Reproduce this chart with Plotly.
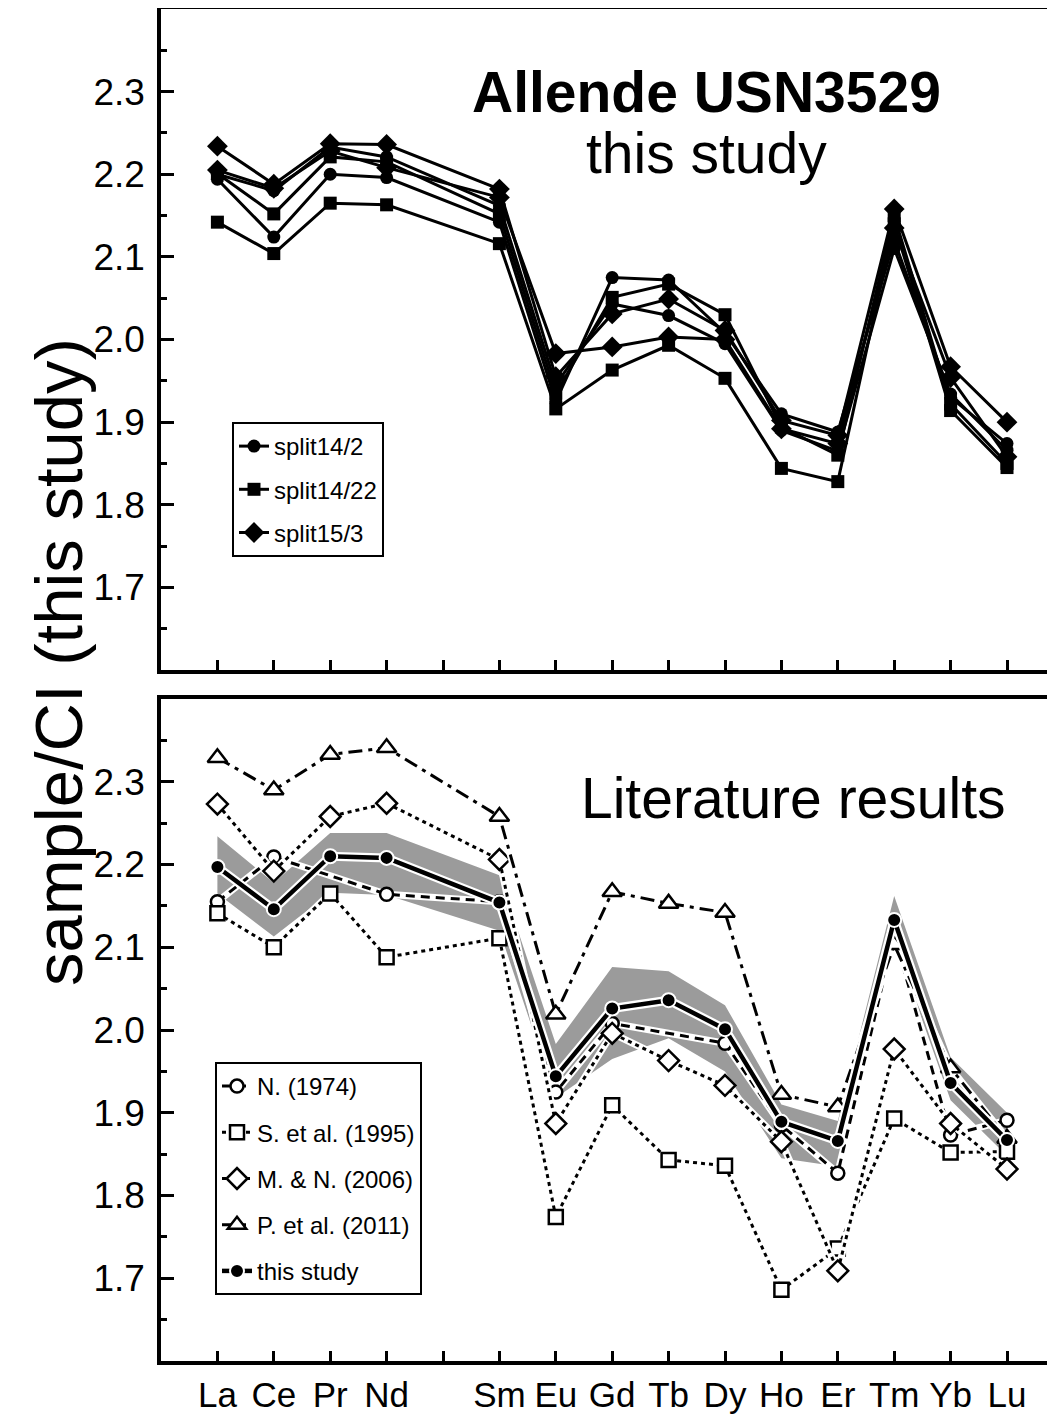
import plotly.graph_objects as go

# ---------------- data ----------------
elements = ["La", "Ce", "Pr", "Nd", "Sm", "Eu", "Gd", "Tb", "Dy", "Ho", "Er", "Tm", "Yb", "Lu"]
atomic_numbers = [57, 58, 59, 60, 62, 63, 64, 65, 66, 67, 68, 69, 70, 71]
tick_positions = [57, 58, 59, 60, 61, 62, 63, 64, 65, 66, 67, 68, 69, 70, 71]
tick_labels = ["La", "Ce", "Pr", "Nd", "", "Sm", "Eu", "Gd", "Tb", "Dy", "Ho", "Er", "Tm", "Yb", "Lu"]
y_tick_values = [1.7, 1.8, 1.9, 2.0, 2.1, 2.2, 2.3]
y_tick_labels = ["1.7", "1.8", "1.9", "2.0", "2.1", "2.2", "2.3"]
y_minor_values = [1.65, 1.75, 1.85, 1.95, 2.05, 2.15, 2.25, 2.35]

# top panel: this study, individual splits (two runs each)
split14_2_a = [2.194, 2.124, 2.200, 2.196, 2.142, 1.925, 2.075, 2.072, 2.008, 1.910, 1.888, 2.120, 1.930, 1.874]
split14_2_b = [2.200, 2.180, 2.233, 2.221, 2.162, 1.945, 2.043, 2.029, 1.995, 1.890, 1.865, 2.110, 1.934, 1.866]
split14_22_a = [2.142, 2.104, 2.165, 2.163, 2.116, 1.916, 1.963, 1.993, 1.953, 1.844, 1.828, 2.140, 1.914, 1.845]
split14_22_b = [2.201, 2.152, 2.221, 2.215, 2.152, 1.935, 2.051, 2.067, 2.030, 1.894, 1.860, 2.150, 1.922, 1.850]
split15_3_a = [2.234, 2.188, 2.237, 2.236, 2.182, 1.955, 2.031, 2.049, 2.011, 1.902, 1.884, 2.158, 1.967, 1.900]
split15_3_b = [2.205, 2.183, 2.228, 2.208, 2.172, 1.983, 1.991, 2.003, 2.000, 1.892, 1.874, 2.135, 1.954, 1.858]

# bottom panel: literature results
this_study = [2.197, 2.146, 2.210, 2.208, 2.154, 1.944, 2.026, 2.036, 2.001, 1.889, 1.866, 2.133, 1.936, 1.867]
band_hi = [2.234, 2.178, 2.238, 2.238, 2.187, 1.983, 2.076, 2.071, 2.030, 1.910, 1.890, 2.162, 1.967, 1.900]
band_lo = [2.165, 2.113, 2.166, 2.163, 2.120, 1.918, 1.965, 1.990, 1.950, 1.845, 1.835, 2.108, 1.915, 1.848]
n_1974 = [2.155, 2.209, None, 2.164, 2.155, 1.925, 2.008, None, 1.984, 1.885, 1.827, 2.115, 1.873, 1.891]
s_1995 = [2.141, 2.100, 2.165, 2.088, 2.111, 1.774, 1.909, 1.843, 1.836, 1.686, 1.736, 1.893, 1.852, 1.853]
mn_2006 = [2.273, 2.192, 2.258, 2.274, 2.206, 1.887, 1.996, 1.963, 1.933, 1.865, 1.709, 1.977, 1.887, 1.832]
p_2011 = [2.329, 2.290, 2.333, 2.341, 2.258, 2.019, 2.167, 2.153, 2.142, 1.922, 1.907, 2.103, 1.954, 1.869]

# ---------------- geometry (page pixels; the page body adds an 8px margin) ----------------
FONT = "Arial, Liberation Sans, sans-serif"
OFF = 8
W, H = 1055 - OFF, 1414 - OFF
PLOT_LEFT, PLOT_TOP, PLOT_BOTTOM = 161, 9, 1361          # page coordinates
ML, MT = PLOT_LEFT - OFF, PLOT_TOP - OFF
MB = H - (PLOT_BOTTOM - OFF)
PW = W - ML
PH = PLOT_BOTTOM - PLOT_TOP
PX_PER_UNIT = 56.4


def px(page_x):
    return (page_x - PLOT_LEFT) / PW


def py(page_y):
    return (PLOT_BOTTOM - page_y) / PH


TOP_DOM = [py(670), 1.0]
BOT_DOM = [0.0, py(699)]
XRANGE = [56.0, 56.0 + PW / PX_PER_UNIT]
YRANGE = [1.6, 2.4]

fig = go.Figure()

# ---- top panel ----
top_series = [
    ("split14/2", split14_2_a, "circle", 13, True),
    ("split14/2", split14_2_b, "circle", 13, False),
    ("split14/22", split14_22_a, "square", 13, True),
    ("split14/22", split14_22_b, "square", 13, False),
    ("split15/3", split15_3_a, "diamond", 16, True),
    ("split15/3", split15_3_b, "diamond", 16, False),
]
for name, vals, sym, size, show in top_series:
    fig.add_trace(go.Scatter(
        x=atomic_numbers, y=vals, mode="lines+markers", name=name,
        legendgroup=name, showlegend=show, legend="legend",
        line=dict(color="black", width=3),
        marker=dict(symbol=sym, size=size, color="black"),
        xaxis="x", yaxis="y",
    ))

# ---- bottom panel ----
fig.add_trace(go.Scatter(x=atomic_numbers, y=band_lo, mode="lines", line=dict(width=0, color="#9b9b9b"),
                         showlegend=False, hoverinfo="skip", xaxis="x2", yaxis="y2"))
fig.add_trace(go.Scatter(x=atomic_numbers, y=band_hi, mode="lines", line=dict(width=0, color="#9b9b9b"),
                         fill="tonexty", fillcolor="#9b9b9b",
                         showlegend=False, hoverinfo="skip", xaxis="x2", yaxis="y2"))

lit_series = [
    ("N. (1974)", n_1974, "circle", 13, "9px,6px"),
    ("S. et al. (1995)", s_1995, "square", 14, "4px,4px"),
    ("M. & N. (2006)", mn_2006, "diamond", 16, "4px,4px"),
    ("P. et al. (2011)", p_2011, "triangle-up", 17, "14px,6px,4px,6px"),
]
for name, vals, sym, size, dash in lit_series:
    fig.add_trace(go.Scatter(
        x=atomic_numbers, y=vals, mode="lines", connectgaps=True,
        line=dict(color="white", width=7), showlegend=False, hoverinfo="skip",
        xaxis="x2", yaxis="y2",
    ))
    fig.add_trace(go.Scatter(
        x=atomic_numbers, y=vals, mode="lines+markers", name=name, connectgaps=True,
        legendgroup=name, legend="legend2",
        line=dict(color="black", width=3, dash=dash),
        marker=dict(symbol=sym, size=size, color="white", line=dict(color="black", width=2.5)),
        xaxis="x2", yaxis="y2",
    ))

fig.add_trace(go.Scatter(
    x=atomic_numbers, y=this_study, mode="lines",
    line=dict(color="white", width=9), showlegend=False, hoverinfo="skip",
    xaxis="x2", yaxis="y2",
))
fig.add_trace(go.Scatter(
    x=atomic_numbers, y=this_study, mode="lines+markers", name="this study",
    legendgroup="this study", legend="legend2",
    line=dict(color="black", width=4.5),
    marker=dict(symbol="circle", size=14, color="black", line=dict(color="white", width=2)),
    xaxis="x2", yaxis="y2",
))

# empty traces so the right-hand tick-only axes render
fig.add_trace(go.Scatter(x=[], y=[], showlegend=False, xaxis="x", yaxis="y3"))
fig.add_trace(go.Scatter(x=[], y=[], showlegend=False, xaxis="x2", yaxis="y4"))


# ---------------- axes ----------------
def xaxis_cfg(anchor, labels):
    return dict(
        domain=[0, 1], anchor=anchor, range=XRANGE, automargin=False,
        tickmode="array", tickvals=tick_positions, ticktext=tick_labels,
        showticklabels=labels, ticks="inside", ticklen=10, tickwidth=3, tickcolor="black",
        showline=True, linewidth=3.5, linecolor="black", mirror=True,
        showgrid=False, zeroline=False,
        tickfont=dict(family=FONT, size=35, color="black"), ticklabelstandoff=0,
    )


def yaxis_cfg(anchor, dom):
    return dict(
        domain=dom, anchor=anchor, range=YRANGE, automargin=False,
        tickmode="array", tickvals=y_tick_values, ticktext=y_tick_labels,
        ticks="inside", ticklen=13, tickwidth=3, tickcolor="black",
        minor=dict(tickmode="array", tickvals=y_minor_values, ticks="inside",
                   ticklen=6, tickwidth=3, tickcolor="black", showgrid=False),
        showline=True, linewidth=3.5, linecolor="black", mirror=False,
        showgrid=False, zeroline=False,
        tickfont=dict(family=FONT, size=37, color="black"), ticklabelstandoff=5,
    )


def yright_cfg(anchor, over):
    return dict(
        overlaying=over, anchor=anchor, side="right", range=YRANGE, automargin=False,
        tickmode="array", tickvals=y_tick_values, showticklabels=False,
        ticks="inside", ticklen=6, tickwidth=3, tickcolor="black",
        minor=dict(tickmode="array", tickvals=y_minor_values, ticks="inside",
                   ticklen=6, tickwidth=3, tickcolor="black", showgrid=False),
        showline=False, showgrid=False, zeroline=False,
    )


fig.update_layout(
    width=W, height=H, autosize=False,
    margin=dict(l=ML, r=0, t=MT, b=MB, pad=0, autoexpand=False),
    paper_bgcolor="white", plot_bgcolor="white",
    font=dict(family=FONT, color="black"),
    xaxis=xaxis_cfg("y", False),
    yaxis=yaxis_cfg("x", TOP_DOM),
    xaxis2=xaxis_cfg("y2", True),
    yaxis2=yaxis_cfg("x2", BOT_DOM),
    yaxis3=yright_cfg("x", "y"),
    yaxis4=yright_cfg("x2", "y2"),
    legend=dict(
        x=px(232), y=py(422), xanchor="left", yanchor="top",
        bgcolor="white", bordercolor="black", borderwidth=2,
        font=dict(family=FONT, size=24, color="black"), tracegroupgap=9,
    ),
    legend2=dict(
        x=px(215), y=py(1062), xanchor="left", yanchor="top",
        bgcolor="white", bordercolor="black", borderwidth=2,
        font=dict(family=FONT, size=24, color="black"), tracegroupgap=12,
    ),
    showlegend=True,
    annotations=[
        dict(text="<b>Allende USN3529</b>", xref="paper", yref="paper",
             x=px(706), y=py(92), xanchor="center", yanchor="middle",
             showarrow=False, font=dict(family=FONT, size=57, color="black")),
        dict(text="this study", xref="paper", yref="paper",
             x=px(706), y=py(153), xanchor="center", yanchor="middle",
             showarrow=False, font=dict(family=FONT, size=57, color="black")),
        dict(text="Literature results", xref="paper", yref="paper",
             x=px(793), y=py(798), xanchor="center", yanchor="middle",
             showarrow=False, font=dict(family=FONT, size=57, color="black")),
        dict(text="sample/CI (this study)", xref="paper", yref="paper",
             x=px(58), y=py(662), xanchor="center", yanchor="middle",
             textangle=-90, showarrow=False, font=dict(family=FONT, size=67, color="black")),
    ],
)

fig.write_html("out.html")
